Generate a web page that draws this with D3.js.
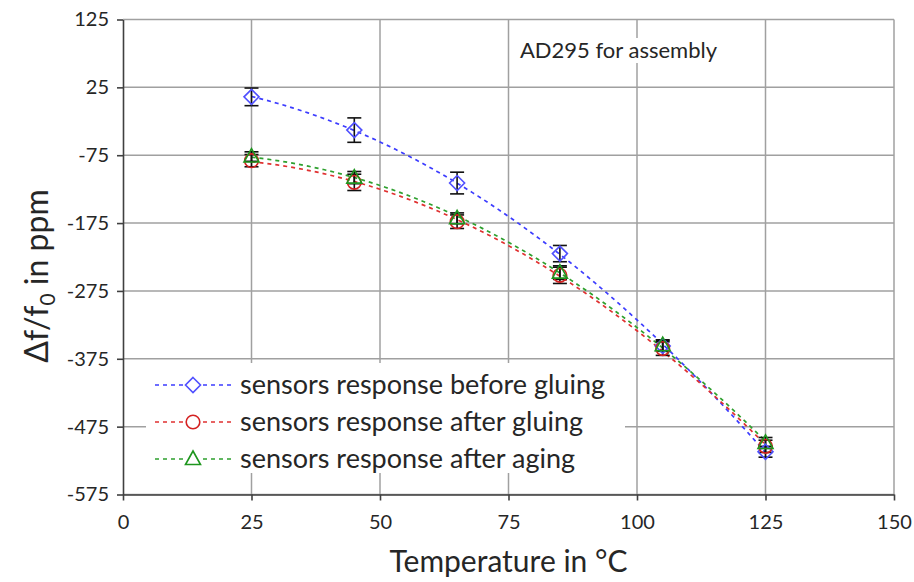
<!DOCTYPE html>
<html><head><meta charset="utf-8">
<script src="https://cdn.jsdelivr.net/npm/d3@7"></script>
<style>
body{margin:0;background:#fff}
svg{display:block}
text{font-family:Lato,"Open Sans",sans-serif;fill:#262626}
</style>
</head><body>
<svg id="chart" width="914" height="582"></svg>
<script>
// ---- data ----
const temperatures = [25, 45, 65, 85, 105, 125];
const beforeGluing = [11, -38, -116, -220, -356, -512];
const beforeGluingErr = [13, 18, 16, 12, 8, 8];
const afterGluing = [-83, -115, -173, -252, -360, -504];
const afterGluingErr = [9, 12, 10, 12, 10, 9];
const afterAging = [-77, -108, -168, -248, -355, -499];
const afterAgingErr = [7, 9, 8, 10, 8, 8];
const xTicks = [0, 25, 50, 75, 100, 125, 150];
const yTicks = [125, 25, -75, -175, -275, -375, -475, -575];
const seriesNames = ["sensors response before gluing", "sensors response after gluing", "sensors response after aging"];
const chartTitle = "AD295 for assembly";

// ---- layout ----
const svg = d3.select("#chart");
const L = 123, R = 894, T = 19.5, B = 494.5;
const x = d3.scaleLinear().domain([0, 150]).range([L, R]);
const y = d3.scaleLinear().domain([-575, 125]).range([B, T]);

const styles = [
  {line: "#3c3cff", mark: "#5050ff", shape: "diamond"},
  {line: "#e03030", mark: "#d42222", shape: "circle"},
  {line: "#2ea02e", mark: "#1e961e", shape: "triangle"}
];
const series = [
  {name: seriesNames[0], vals: beforeGluing, err: beforeGluingErr, st: styles[0]},
  {name: seriesNames[1], vals: afterGluing, err: afterGluingErr, st: styles[1]},
  {name: seriesNames[2], vals: afterAging, err: afterAgingErr, st: styles[2]}
];

// gridlines
const grid = svg.append("g");
grid.selectAll("line.h").data(yTicks).join("line")
  .attr("x1", L).attr("x2", R).attr("y1", d => y(d)).attr("y2", d => y(d))
  .attr("stroke", "#a0a0a0").attr("stroke-width", 1.5);
grid.selectAll("line.v").data(xTicks.filter(d => d > 0)).join("line")
  .attr("x1", d => x(d)).attr("x2", d => x(d)).attr("y1", T).attr("y2", B)
  .attr("stroke", "#a0a0a0").attr("stroke-width", 1.5);

// axes
const yAxis = svg.append("g").attr("transform", `translate(${L},0)`)
  .call(d3.axisLeft(y).tickValues(yTicks).tickSize(6).tickSizeOuter(0).tickPadding(8).tickFormat(d => String(d)));
const xAxis = svg.append("g").attr("transform", `translate(0,${B})`)
  .call(d3.axisBottom(x).tickValues(xTicks).tickSize(6).tickSizeOuter(0).tickPadding(14).tickFormat(d => String(d)));
[yAxis, xAxis].forEach(a => {
  a.select(".domain").attr("stroke", "#404040").attr("stroke-width", 1.6);
  a.selectAll(".tick line").attr("stroke", "#404040").attr("stroke-width", 1.6);
  a.selectAll(".tick text").attr("font-size", 20).attr("font-family", "Lato").attr("fill", "#262626");
});

// quadratic least-squares trendline (like spreadsheet polynomial trendline)
function quadFit(xs, ys) {
  let S = [0, 0, 0, 0, 0], Ty = [0, 0, 0];
  xs.forEach((xv, i) => {
    for (let k = 0; k < 5; k++) S[k] += Math.pow(xv, k);
    for (let k = 0; k < 3; k++) Ty[k] += ys[i] * Math.pow(xv, k);
  });
  const M = [[S[0], S[1], S[2], Ty[0]], [S[1], S[2], S[3], Ty[1]], [S[2], S[3], S[4], Ty[2]]];
  for (let c = 0; c < 3; c++) {
    for (let r = c + 1; r < 3; r++) {
      const f = M[r][c] / M[c][c];
      for (let k = c; k < 4; k++) M[r][k] -= f * M[c][k];
    }
  }
  const a = [0, 0, 0];
  for (let r = 2; r >= 0; r--) {
    let s = M[r][3];
    for (let k = r + 1; k < 3; k++) s -= M[r][k] * a[k];
    a[r] = s / M[r][r];
  }
  return t => a[0] + a[1] * t + a[2] * t * t;
}
const xs = d3.range(temperatures[0], temperatures[temperatures.length - 1] + 0.5, 1);
const lineGen = d3.line().x(d => x(d[0])).y(d => y(d[1]));
series.forEach(s => {
  const f = quadFit(temperatures, s.vals);
  svg.append("path").attr("d", lineGen(xs.map(t => [t, f(t)])))
    .attr("fill", "none").attr("stroke", s.st.line).attr("stroke-width", 1.7)
    .attr("stroke-dasharray", "4,4");
});

// error bars
series.forEach(s => {
  const g = svg.append("g").attr("stroke", "#111").attr("stroke-width", 1.6);
  temperatures.forEach((t, i) => {
    const cx = x(t), y1 = y(s.vals[i] + s.err[i]), y2 = y(s.vals[i] - s.err[i]);
    g.append("line").attr("x1", cx).attr("x2", cx).attr("y1", y1).attr("y2", y2);
    g.append("line").attr("x1", cx - 7).attr("x2", cx + 7).attr("y1", y1).attr("y2", y1);
    g.append("line").attr("x1", cx - 7).attr("x2", cx + 7).attr("y1", y2).attr("y2", y2);
  });
});

// markers
function marker(g, shape, color) {
  if (shape === "diamond") g.append("path").attr("d", "M0,-7.5L7.5,0L0,7.5L-7.5,0Z");
  else if (shape === "circle") g.append("circle").attr("r", 6.8);
  else g.append("path").attr("d", "M0,-8L7.5,5.5L-7.5,5.5Z");
  g.selectAll("*").attr("fill", "none").attr("stroke", color).attr("stroke-width", 1.6);
}
series.forEach(s => {
  temperatures.forEach((t, i) => {
    marker(svg.append("g").attr("transform", `translate(${x(t)},${y(s.vals[i])})`), s.st.shape, s.st.mark);
  });
});

// legend
const lg = svg.append("g");
lg.append("rect").attr("x", 146).attr("y", 363).attr("width", 479).attr("height", 110).attr("fill", "#fff");
series.forEach((s, i) => {
  const cy = 385 + i * 37;
  lg.append("line").attr("x1", 155).attr("x2", 232).attr("y1", cy).attr("y2", cy)
    .attr("stroke", s.st.line).attr("stroke-width", 1.7).attr("stroke-dasharray", "4,4");
  lg.append("rect").attr("x", 184).attr("y", cy - 9).attr("width", 18).attr("height", 18).attr("fill", "#fff");
  marker(lg.append("g").attr("transform", `translate(193,${cy})`), s.st.shape, s.st.mark);
  lg.append("text").attr("x", 240).attr("y", cy + 9).attr("font-size", 27).text(s.name);
});

// chart title
const tg = svg.append("g");
const tt = tg.append("text").attr("x", 717).attr("y", 58).attr("text-anchor", "end").attr("font-size", 22).text(chartTitle);
const bb = tt.node().getBBox();
tg.insert("rect", "text").attr("x", bb.x - 3).attr("y", bb.y + 2).attr("width", bb.width + 6).attr("height", bb.height - 2).attr("fill", "#fff");

// axis titles
svg.append("text").attr("x", (L + R) / 2).attr("y", 572).attr("text-anchor", "middle")
  .attr("font-size", 30).text("Temperature in °C");
const yt = svg.append("text").attr("transform", `translate(48,276) rotate(-90)`)
  .attr("text-anchor", "middle").attr("font-size", 32);
yt.append("tspan").text("Δf/f");
yt.append("tspan").attr("font-size", 21).attr("dy", 7).text("0");
yt.append("tspan").attr("dy", -7).text(" in ppm");
</script>
</body></html>
